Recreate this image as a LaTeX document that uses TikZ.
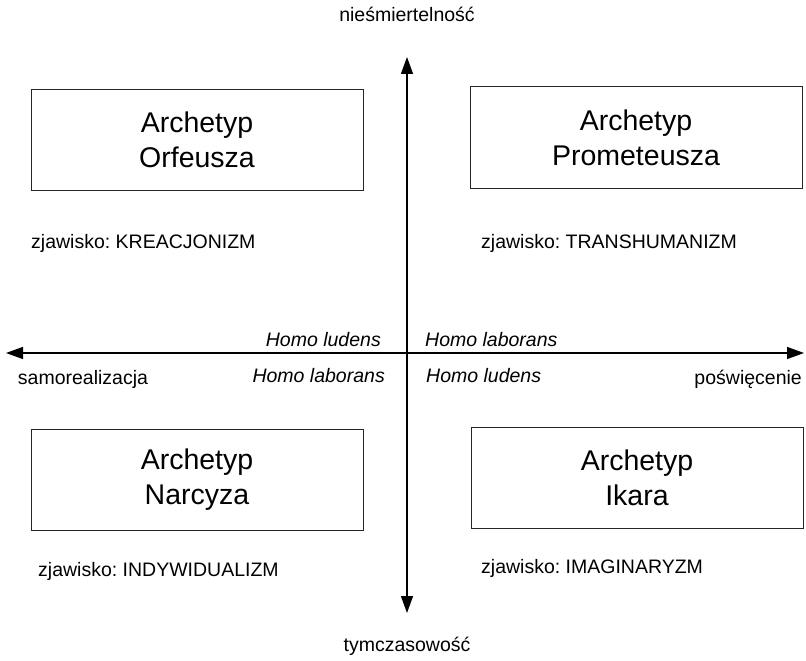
\documentclass[tikz,border=0pt]{standalone}
\usepackage{fontspec}
\setmainfont{Liberation Sans}
\usetikzlibrary{positioning, arrows.meta}
\frenchspacing

\tikzset{
  axis/.style={line width=1.4pt, {Triangle[length=17pt,width=12pt]}-{Triangle[length=17pt,width=12pt]}},
  archbox/.style={draw=black!85, line width=1pt, minimum width=332pt, minimum height=101pt,
    align=center, font=\fontsize{28.5pt}{35pt}\selectfont},
  axlabel/.style={inner sep=0pt, font=\fontsize{19.5pt}{23pt}\selectfont},
  homo/.style={inner sep=0pt, font=\fontsize{19.5pt}{23pt}\selectfont\itshape},
  phenom/.style={inner sep=0pt, anchor=west, font=\fontsize{19.5pt}{23pt}\selectfont}
}

\begin{document}
\begin{tikzpicture}[x=1pt,y=-1pt]
  \useasboundingbox (0,0) rectangle (806,661);

  % axes
  \coordinate (top) at (407,57);
  \coordinate (bottom) at (407,613);
  \coordinate (left) at (6,353);
  \coordinate (right) at (804,353);
  \draw[axis] (bottom) -- (top);
  \draw[axis] (left) -- (right);

  \node[axlabel] (immortal) at (407,14) {nieśmiertelność};
  \node[axlabel] (temporal) at (407,646) {tymczasowość};
  \node[axlabel] (selfreal) at (83,379) {samorealizacja};
  \node[axlabel, anchor=east] (sacrifice) at (802,379) {poświęcenie};

  \node[homo, anchor=east] (ludensTL) at (381,340) {Homo ludens};
  \node[homo, anchor=west] (laboransTR) at (425,340) {Homo laborans};
  \node[homo, anchor=east] (laboransBL) at (385,376) {Homo laborans};
  \node[homo, anchor=west] (ludensBR) at (426,376) {Homo ludens};

  % archetypes
  \node[archbox] (orfeusz) at (197,139.5) {Archetyp\\Orfeusza};
  \node[archbox] (prometeusz) at (636,137.5) {Archetyp\\Prometeusza};
  \node[archbox] (narcyz) at (197,480) {Archetyp\\Narcyza};
  \node[archbox] (ikar) at (637,477.5) {Archetyp\\Ikara};

  \node[phenom] (kreac) at (31,243) {zjawisko: KREACJONIZM};
  \node[phenom] (trans) at (481,243) {zjawisko: TRANSHUMANIZM};
  \node[phenom] (indyw) at (38,571) {zjawisko: INDYWIDUALIZM};
  \node[phenom] (imag) at (481,568) {zjawisko: IMAGINARYZM};
\end{tikzpicture}
\end{document}
